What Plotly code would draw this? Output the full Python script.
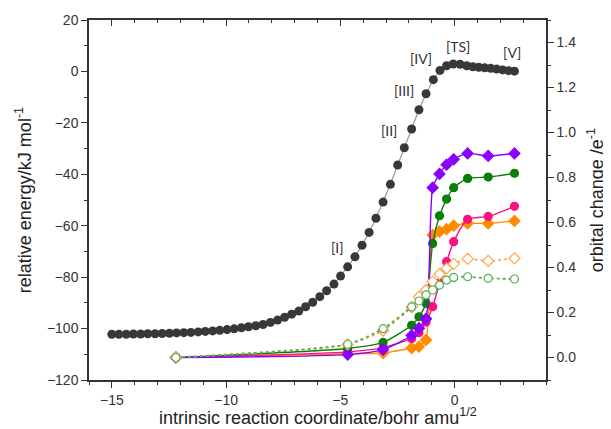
import plotly.graph_objects as go

# ---- energy profile (left axis) ----
irc_x = [-15.00, -14.69, -14.37, -14.06, -13.74, -13.43, -13.11, -12.80, -12.48, -12.17,
         -11.85, -11.54, -11.22, -10.91, -10.59, -10.28, -9.96, -9.65, -9.33, -9.02,
         -8.70, -8.38, -8.06, -7.75, -7.44, -7.13, -6.82, -6.52, -6.21, -5.90,
         -5.60, -5.28, -4.99, -4.68, -4.36, -4.05, -3.74, -3.44, -3.13, -2.81,
         -2.49, -2.20, -1.88, -1.56, -1.25, -0.93, -0.64, -0.35, -0.06, 0.24,
         0.53, 0.80, 1.06, 1.32, 1.58, 1.84, 2.10, 2.36, 2.62]
energy = [-102.2, -102.2, -102.2, -102.1, -102.1, -102.0, -102.0, -101.9, -101.8, -101.7,
          -101.6, -101.5, -101.3, -101.1, -100.9, -100.7, -100.4, -100.1, -99.7, -99.3,
          -98.9, -98.4, -97.6, -96.7, -95.6, -94.4, -93.2, -91.5, -89.8, -87.6,
          -85.3, -82.7, -79.6, -76.0, -72.1, -67.6, -62.6, -57.1, -50.8, -43.9,
          -36.4, -29.7, -22.4, -14.9, -8.7, -3.2, 0.4, 2.2, 2.9, 2.8,
          2.2, 1.8, 1.6, 1.4, 1.2, 0.9, 0.6, 0.3, 0.1]

# ---- orbital changes (right axis) ----
orb_x = [-12.2, -4.68, -3.13, -1.88, -1.56, -1.25, -0.96, -0.66, -0.35, -0.04, 0.57, 1.47, 2.62]
purple = [0.0, 0.013, 0.035, 0.098, 0.130, 0.172, 0.755, 0.816, 0.857, 0.881, 0.907, 0.896, 0.907]
green = [0.0, 0.040, 0.067, 0.143, 0.181, 0.241, 0.507, 0.630, 0.704, 0.755, 0.796, 0.802, 0.819]
pink = [0.0, 0.025, 0.044, 0.085, 0.110, 0.158, 0.226, 0.330, 0.426, 0.515, 0.614, 0.627, 0.672]
orange = [0.0, 0.017, 0.020, 0.042, 0.048, 0.078, 0.544, 0.560, 0.571, 0.586, 0.596, 0.596, 0.607]
orange_open = [0.0, 0.058, 0.120, 0.224, 0.270, 0.300, 0.337, 0.371, 0.396, 0.416, 0.438, 0.429, 0.441]
green_open = [0.0, 0.059, 0.128, 0.225, 0.251, 0.278, 0.300, 0.322, 0.344, 0.356, 0.359, 0.352, 0.349]

# ---- point labels ----
lab_text = ["[I]", "[II]", "[III]", "[IV]", "[TS]", "[V]"]
lab_x = [-5.12, -2.86, -2.20, -1.48, 0.14, 2.50]
lab_y = [-68.4, -22.8, -7.6, 5.1, 9.6, 7.3]

y2_ticks = [0.0, 0.2, 0.4, 0.6, 0.8, 1.0, 1.2, 1.4]

x_title = "intrinsic reaction coordinate/bohr amu<sup>1/2</sup>"
y_title = "relative energy/kJ mol<sup>-1</sup>"
y2_title = "orbital change /e<sup>-1</sup>"

AX = "#333333"
FONT = "Liberation Sans, Arial, sans-serif"

fig = go.Figure()

def orb(y, color, symbol, dash="solid", open_=False, lw=1.4):
    fig.add_trace(go.Scatter(
        x=orb_x, y=y, yaxis="y2", mode="lines+markers",
        line=dict(color=color, width=lw, dash=dash, shape="spline", smoothing=0.6),
        marker=dict(symbol=symbol, size=8.5 if "diamond" in symbol else 8,
                    color="white" if open_ else color,
                    line=dict(color=color, width=1.2)),
        showlegend=False, hoverinfo="skip"))

orb(orange, "#FF8C00", "diamond")
orb(pink, "#FF1081", "circle")
orb(green, "#0A7D0A", "circle")
orb(purple, "#8A00FF", "diamond")
orb(orange_open, "#FFA54F", "diamond", dash="dot", open_=True, lw=1.8)
orb(green_open, "#55B055", "circle", dash="dot", open_=True, lw=1.8)

fig.add_trace(go.Scatter(
    x=irc_x, y=energy, mode="lines+markers",
    line=dict(color="#9a9a9a", width=1.2),
    marker=dict(symbol="circle", size=9, color="#383838", line=dict(width=0)),
    showlegend=False, hoverinfo="skip"))

# dummy trace for the top axis
fig.add_trace(go.Scatter(x=[None], y=[None], xaxis="x2", showlegend=False, hoverinfo="skip"))

for t, x, y in zip(lab_text, lab_x, lab_y):
    fig.add_annotation(x=x, y=y, text=t, showarrow=False,
                       font=dict(family="Lato, Open Sans, sans-serif", size=14, color="#333333"))

# axis titles
fig.add_annotation(xref="paper", yref="paper", x=0.5, y=-0.1, text=x_title, showarrow=False,
                   xanchor="center", yanchor="middle", font=dict(size=18, color="#222"))
fig.add_annotation(xref="paper", yref="paper", x=-0.144, y=0.5, text=y_title, showarrow=False,
                   textangle=-90, xanchor="center", yanchor="middle", font=dict(size=18, color="#222"))
fig.add_annotation(xref="paper", yref="paper", x=1.108, y=0.5, text=y2_title, showarrow=False,
                   textangle=-90, xanchor="center", yanchor="middle", font=dict(size=18, color="#222"))

fig.update_layout(
    width=603, height=421,
    margin=dict(l=81, r=65, t=12, b=49, autoexpand=False),
    paper_bgcolor="white", plot_bgcolor="white",
    font=dict(family=FONT, color="#333"),
    xaxis=dict(range=[-16, 4], tickvals=[-15, -10, -5, 0], ticks="outside", ticklen=6,
               tickwidth=1.3, tickcolor=AX, automargin=False,
               minor=dict(dtick=1, tick0=0, ticks="outside", ticklen=3, tickcolor=AX, tickwidth=1.2),
               showline=True, linecolor=AX, linewidth=1.5, showgrid=False, zeroline=False,
               tickfont=dict(size=14, color="#333")),
    xaxis2=dict(range=[-16, 4], overlaying="x", side="top", matches="x", ticks="inside",
                tickvals=[-15, -10, -5, 0], ticklen=6, tickwidth=1.3, tickcolor=AX, automargin=False,
                minor=dict(dtick=1, tick0=0, ticks="inside", ticklen=3, tickcolor=AX, tickwidth=1.2),
                showticklabels=False, showline=True, linecolor=AX, linewidth=1.5,
                showgrid=False, zeroline=False),
    yaxis=dict(range=[-120, 20], dtick=20, ticks="outside", ticklen=6, tickwidth=1.3, tickcolor=AX,
               automargin=False,
               minor=dict(dtick=10, ticks="outside", ticklen=3, tickcolor=AX, tickwidth=1.2),
               showline=True, linecolor=AX, linewidth=1.5, showgrid=False, zeroline=False,
               tickfont=dict(size=14, color="#333")),
    yaxis2=dict(range=[-0.1, 1.5], overlaying="y", side="right", tickvals=y2_ticks,
                ticktext=[f"{v:.1f}" for v in y2_ticks], automargin=False,
                ticks="outside", ticklen=6, tickwidth=1.3, tickcolor=AX,
                minor=dict(dtick=0.1, tick0=0, ticks="outside", ticklen=3, tickcolor=AX, tickwidth=1.2),
                showline=True, linecolor=AX, linewidth=1.5, showgrid=False, zeroline=False,
                tickfont=dict(size=14, color="#333")),
)

fig.write_html("out.html")
